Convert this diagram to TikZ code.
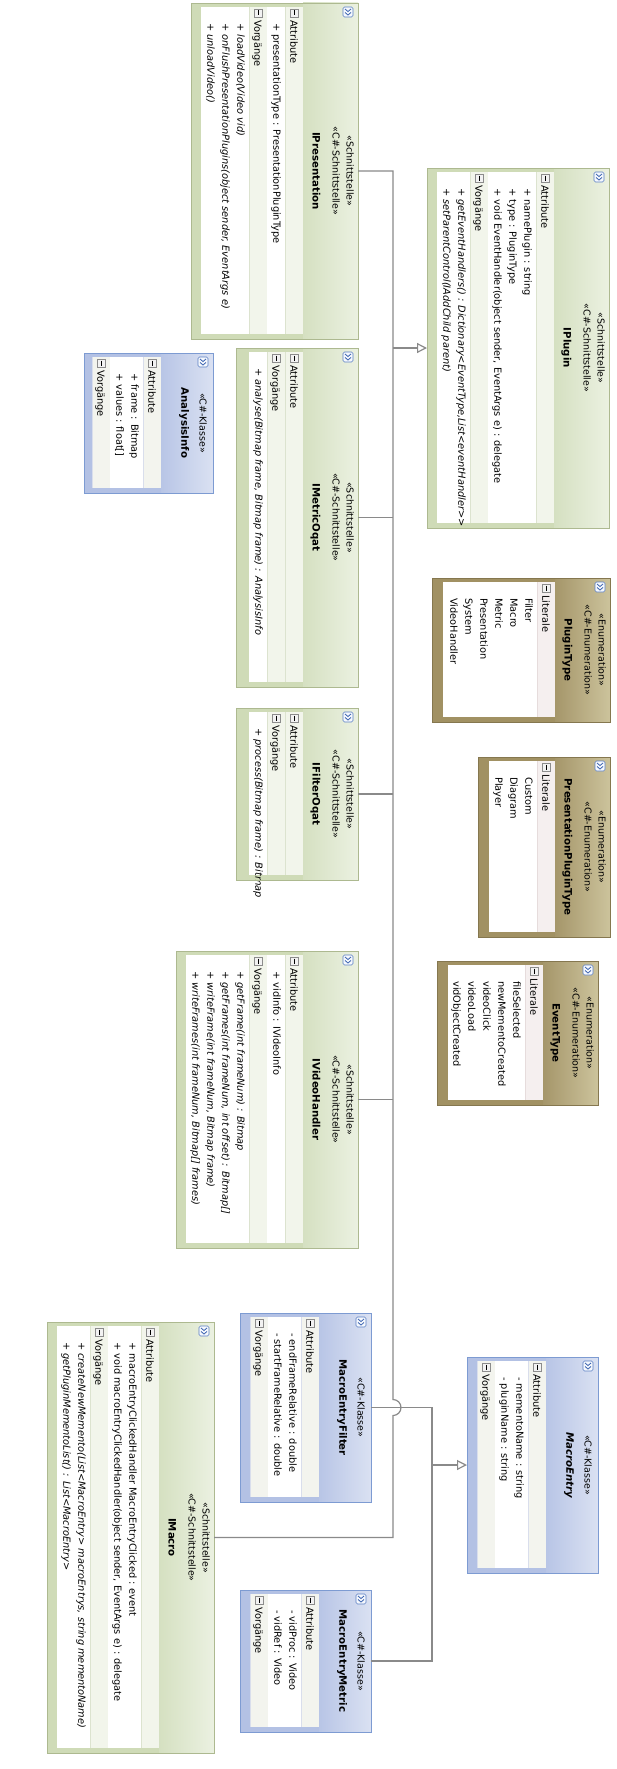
\documentclass[tikz,border=0pt]{standalone}
\usepackage{fontspec}
\setmainfont{DejaVu Sans}
\usetikzlibrary{arrows.meta}

% palettes: interface (green), class (blue), enumeration (olive)
\definecolor{ifcFrame}{HTML}{CFDBB7}
\definecolor{ifcHeadA}{HTML}{D5E0C1}
\definecolor{ifcHeadB}{HTML}{EBF1E1}
\definecolor{ifcBorder}{HTML}{ADB990}
\definecolor{ifcRow}{HTML}{F2F5EB}
\definecolor{ifcSep}{HTML}{DCE3CF}
\definecolor{clsFrame}{HTML}{B3C1E4}
\definecolor{clsHeadA}{HTML}{B8C5E6}
\definecolor{clsHeadB}{HTML}{DAE1F2}
\definecolor{clsBorder}{HTML}{7D9BD2}
\definecolor{clsRow}{HTML}{F3F4EE}
\definecolor{clsSep}{HTML}{D9DEEC}
\definecolor{enmFrame}{HTML}{A19163}
\definecolor{enmHeadA}{HTML}{A5966A}
\definecolor{enmHeadB}{HTML}{CCC39C}
\definecolor{enmBorder}{HTML}{85774F}
\definecolor{enmRow}{HTML}{F5EFEF}
\definecolor{enmSep}{HTML}{E6DCDC}
\definecolor{wire}{HTML}{8A8A8A}
\definecolor{iconEdge}{HTML}{8C8C8C}
\definecolor{iconFill}{HTML}{F2F2F2}
\definecolor{chevEdge}{HTML}{5B7FC4}
\definecolor{chevFill}{HTML}{F5F8FD}
\definecolor{chevInk}{HTML}{3A62B0}

\newcommand\itemfont{\fontsize{9.8}{12}\selectfont}
\newcommand\stereofont{\fontsize{9.5}{11}\selectfont}
\newcommand\titlefont{\fontsize{10.2}{12}\selectfont\bfseries}

\tikzset{
  itm/.style={rotate=-90, anchor=base west, inner sep=0pt, font=\itemfont},
  opr/.style={itm, font=\itemfont\itshape},
  stereo/.style={rotate=-90, anchor=base, inner sep=0pt, font=\stereofont},
  ttl/.style={rotate=-90, anchor=base, inner sep=0pt, font=\titlefont},
  ttlabs/.style={ttl, font=\titlefont\itshape},
  wire/.style={draw=wire, line width=1.2pt},
  realize/.style={-{Triangle[length=10pt, width=10pt, fill=white]}},
}

% class frame: name, palette, left, top, right, bottom, header start
\newcommand\umlframe[7]{%
  \pgfmathsetmacro\bw{#5-#3}%
  \pgfmathsetmacro\bh{#6-#4}%
  \node[fill=#2Frame, inner sep=0pt, outer sep=0pt, minimum width=\bw pt, minimum height=\bh pt] (#1) at ({(#3+#5)/2},{(#4+#6)/2}) {};
  \shade[left color=#2HeadA, right color=#2HeadB] (#7,#4) rectangle (#5,#6);
}
\newcommand\umledge[2]{\draw[#2Border, line width=0.8pt] (#1.south west) rectangle (#1.north east);}
% compartment caption row: palette, x from, x to, top, bottom, caption
\newcommand\secrow[6]{%
  \fill[#1Row] (#2,#4+4) rectangle (#3,#5-5);
  \draw[#1Sep, line width=0.6pt] (#2,#4+4) -- (#2,#5-5);
  \pgfmathsetmacro\cx{(#2+#3)/2}%
  \draw[fill=iconFill, draw=iconEdge, line width=0.5pt] (\cx-4,#4+6) rectangle (\cx+4,#4+14);
  \draw[line width=0.8pt] (\cx,#4+7.5) -- (\cx,#4+12.5);
  \node[itm] at (\cx-3.6,#4+17) {#6};
}
\newcommand\fillwhite[4]{\fill[white] (#1,#3+4) rectangle (#2,#4-5);}
% one member line: centre x, top, style, text
\newcommand\entry[4]{\node[#3] at (#1-3.6,#2+20) {#4};}
% header with two stereotypes: right, mid y, stereotype 1, stereotype 2, title, title style
\newcommand\headtwo[6]{%
  \node[stereo] at (#1-11.5,#2) {#3};
  \node[stereo] at (#1-25.5,#2) {#4};
  \node[#6] at (#1-45.5,#2) {#5};
}
% header with one stereotype: right, mid y, stereotype, title, title style
\newcommand\headone[5]{%
  \node[stereo] at (#1-13.5,#2) {#3};
  \node[#5] at (#1-31.7,#2) {#4};
}
% expand button in the corner: right, top
\newcommand\chev[2]{%
  \draw[rounded corners=1.5pt, fill=chevFill, draw=chevEdge, line width=0.6pt] (#1-15,#2+4) rectangle (#1-5,#2+14);
  \draw[chevInk, line width=0.8pt] (#1-13,#2+6) -- (#1-10,#2+8.5) -- (#1-7,#2+6)
    (#1-13,#2+9.5) -- (#1-10,#2+12) -- (#1-7,#2+9.5);
}

\begin{document}
\begin{tikzpicture}[x=1pt, y=-1pt]
\fill[white] (0,0) rectangle (617,1769);
\useasboundingbox (0,0) rectangle (617,1769);

% ---------- IPresentation
\umlframe{ipres}{ifc}{191}{3}{358}{339}{303}
\secrow{ifc}{285}{303}{3}{339}{Attribute}
\fillwhite{267}{285}{3}{339}
\entry{277}{3}{itm}{+ presentationType : PresentationPluginType}
\secrow{ifc}{249}{267}{3}{339}{Vorgänge}
\fillwhite{201}{249}{3}{339}
\entry{241}{3}{opr}{+ loadVideo(Video vid)}
\entry{226}{3}{opr}{+ onFlushPresentationPlugins(object sender, EventArgs e)}
\entry{211}{3}{opr}{+ unloadVideo()}
\headtwo{358}{171}{«Schnittstelle»}{«C\#-Schnittstelle»}{IPresentation}{ttl}
\chev{358}{3}
\umledge{ipres}{ifc}

% ---------- IPlugin
\umlframe{iplugin}{ifc}{427}{168}{609}{528}{554}
\secrow{ifc}{536}{554}{168}{528}{Attribute}
\fillwhite{488}{536}{168}{528}
\entry{528}{168}{itm}{+ namePlugin : string}
\entry{513}{168}{itm}{+ type : PluginType}
\entry{498}{168}{itm}{+ void EventHandler(object sender, EventArgs e) : delegate}
\secrow{ifc}{470}{488}{168}{528}{Vorgänge}
\fillwhite{437}{470}{168}{528}
\entry{462}{168}{opr}{+ getEventHandlers() : Dictionary<EventType,List<eventHandler>{}>}
\entry{447}{168}{opr}{+ setParentControl(IAddChild parent)}
\headtwo{609}{348}{«Schnittstelle»}{«C\#-Schnittstelle»}{IPlugin}{ttl}
\chev{609}{168}
\umledge{iplugin}{ifc}

% ---------- AnalysisInfo
\umlframe{ainfo}{cls}{84}{353}{213}{493}{161}
\secrow{cls}{143}{161}{353}{493}{Attribute}
\fillwhite{110}{143}{353}{493}
\entry{135}{353}{itm}{+ frame : Bitmap}
\entry{120}{353}{itm}{+ values : float[]}
\secrow{cls}{92}{110}{353}{493}{Vorgänge}
\headone{213}{423}{«C\#-Klasse»}{AnalysisInfo}{ttl}
\chev{213}{353}
\umledge{ainfo}{cls}

% ---------- IMetricOqat
\umlframe{imetric}{ifc}{236}{348}{358}{687}{303}
\secrow{ifc}{285}{303}{348}{687}{Attribute}
\secrow{ifc}{267}{285}{348}{687}{Vorgänge}
\fillwhite{249}{267}{348}{687}
\entry{259}{348}{opr}{+ analyse(Bitmap frame, Bitmap frame) : AnalysisInfo}
\headtwo{358}{517.5}{«Schnittstelle»}{«C\#-Schnittstelle»}{IMetricOqat}{ttl}
\chev{358}{348}
\umledge{imetric}{ifc}

% ---------- PluginType
\umlframe{ptype}{enm}{432}{578}{610}{722}{555}
\secrow{enm}{537}{555}{578}{722}{Literale}
\fillwhite{443}{537}{578}{722}
\entry{529}{578}{itm}{Filter}
\entry{514}{578}{itm}{Macro}
\entry{499}{578}{itm}{Metric}
\entry{484}{578}{itm}{Presentation}
\entry{469}{578}{itm}{System}
\entry{454}{578}{itm}{VideoHandler}
\headtwo{610}{650}{«Enumeration»}{«C\#-Enumeration»}{PluginType}{ttl}
\chev{610}{578}
\umledge{ptype}{enm}

% ---------- PresentationPluginType
\umlframe{pptype}{enm}{478}{757}{610}{937}{555}
\secrow{enm}{537}{555}{757}{937}{Literale}
\fillwhite{489}{537}{757}{937}
\entry{529}{757}{itm}{Custom}
\entry{514}{757}{itm}{Diagram}
\entry{499}{757}{itm}{Player}
\headtwo{610}{847}{«Enumeration»}{«C\#-Enumeration»}{PresentationPluginType}{ttl}
\chev{610}{757}
\umledge{pptype}{enm}

% ---------- EventType
\umlframe{etype}{enm}{437}{961}{598}{1105}{543}
\secrow{enm}{525}{543}{961}{1105}{Literale}
\fillwhite{448}{525}{961}{1105}
\entry{517}{961}{itm}{fileSelected}
\entry{502}{961}{itm}{newMementoCreated}
\entry{487}{961}{itm}{videoClick}
\entry{472}{961}{itm}{videoLoad}
\entry{457}{961}{itm}{vidObjectCreated}
\headtwo{598}{1033}{«Enumeration»}{«C\#-Enumeration»}{EventType}{ttl}
\chev{598}{961}
\umledge{etype}{enm}

% ---------- IFilterOqat
\umlframe{ifilter}{ifc}{236}{708}{358}{880}{303}
\secrow{ifc}{285}{303}{708}{880}{Attribute}
\secrow{ifc}{267}{285}{708}{880}{Vorgänge}
\fillwhite{249}{267}{708}{880}
\entry{259}{708}{opr}{+ process(Bitmap frame) : Bitmap}
\headtwo{358}{794}{«Schnittstelle»}{«C\#-Schnittstelle»}{IFilterOqat}{ttl}
\chev{358}{708}
\umledge{ifilter}{ifc}

% ---------- IVideoHandler
\umlframe{ivideo}{ifc}{176}{951}{358}{1248}{303}
\secrow{ifc}{285}{303}{951}{1248}{Attribute}
\fillwhite{267}{285}{951}{1248}
\entry{277}{951}{itm}{+ vidInfo : IVideoInfo}
\secrow{ifc}{249}{267}{951}{1248}{Vorgänge}
\fillwhite{186}{249}{951}{1248}
\entry{241}{951}{opr}{+ getFrame(int frameNum) : Bitmap}
\entry{226}{951}{opr}{+ getFrames(int frameNum, int offset) : Bitmap[]}
\entry{211}{951}{opr}{+ writeFrame(int frameNum, Bitmap frame)}
\entry{196}{951}{opr}{+ writeFrames(int frameNum, Bitmap[] frames)}
\headtwo{358}{1099.5}{«Schnittstelle»}{«C\#-Schnittstelle»}{IVideoHandler}{ttl}
\chev{358}{951}
\umledge{ivideo}{ifc}

% ---------- IMacro
\umlframe{imacro}{ifc}{47}{1322}{214}{1753}{159}
\secrow{ifc}{141}{159}{1322}{1753}{Attribute}
\fillwhite{108}{141}{1322}{1753}
\entry{133}{1322}{itm}{+ macroEntryClickedHandler MacroEntryClicked : event}
\entry{118}{1322}{itm}{+ void macroEntryClickedHandler(object sender, EventArgs e) : delegate}
\secrow{ifc}{90}{108}{1322}{1753}{Vorgänge}
\fillwhite{57}{90}{1322}{1753}
\entry{82}{1322}{opr}{+ createNewMemento(List<MacroEntry> macroEntrys, string mementoName)}
\entry{67}{1322}{opr}{+ getPluginMementoList() : List<MacroEntry>}
\headtwo{214}{1537.5}{«Schnittstelle»}{«C\#-Schnittstelle»}{IMacro}{ttl}
\chev{214}{1322}
\umledge{imacro}{ifc}

% ---------- MacroEntryFilter
\umlframe{mfilter}{cls}{240}{1313}{371}{1502}{319}
\secrow{cls}{301}{319}{1313}{1502}{Attribute}
\fillwhite{268}{301}{1313}{1502}
\entry{293}{1313}{itm}{- endFrameRelative : double}
\entry{278}{1313}{itm}{- startFrameRelative : double}
\secrow{cls}{250}{268}{1313}{1502}{Vorgänge}
\headone{371}{1407.5}{«C\#-Klasse»}{MacroEntryFilter}{ttl}
\chev{371}{1313}
\umledge{mfilter}{cls}

% ---------- MacroEntryMetric
\umlframe{mmetric}{cls}{240}{1590}{371}{1732}{319}
\secrow{cls}{301}{319}{1590}{1732}{Attribute}
\fillwhite{268}{301}{1590}{1732}
\entry{293}{1590}{itm}{- vidProc : Video}
\entry{278}{1590}{itm}{- vidRef : Video}
\secrow{cls}{250}{268}{1590}{1732}{Vorgänge}
\headone{371}{1661}{«C\#-Klasse»}{MacroEntryMetric}{ttl}
\chev{371}{1590}
\umledge{mmetric}{cls}

% ---------- MacroEntry (abstract)
\umlframe{mentry}{cls}{467}{1357}{598}{1573}{546}
\secrow{cls}{528}{546}{1357}{1573}{Attribute}
\fillwhite{495}{528}{1357}{1573}
\entry{520}{1357}{itm}{- mementoName : string}
\entry{505}{1357}{itm}{- pluginName : string}
\secrow{cls}{477}{495}{1357}{1573}{Vorgänge}
\headone{598}{1465}{«C\#-Klasse»}{MacroEntry}{ttlabs}
\chev{598}{1357}
\umledge{mentry}{cls}

% ---------- inheritance connectors
\coordinate (bus) at (393,0);
\coordinate (mbus) at (432,0);
\draw[wire] (ipres.east) -- (ipres.east -| bus)
  -- ([yshift=8pt]mfilter.east -| bus) arc[start angle=90, end angle=-90, radius=8pt]
  -- (imacro.east -| bus) -- (imacro.east);
\draw[wire] (imetric.east) -- (imetric.east -| bus);
\draw[wire] (ifilter.east) -- (ifilter.east -| bus);
\draw[wire] (ivideo.east) -- (ivideo.east -| bus);
\draw[wire, realize] (iplugin.west -| bus) -- (iplugin.west);

\draw[wire] (mfilter.east) -- (mfilter.east -| mbus) -- (mmetric.east -| mbus) -- (mmetric.east);
\draw[wire, realize] (mentry.west -| mbus) -- (mentry.west);
\end{tikzpicture}
\end{document}
